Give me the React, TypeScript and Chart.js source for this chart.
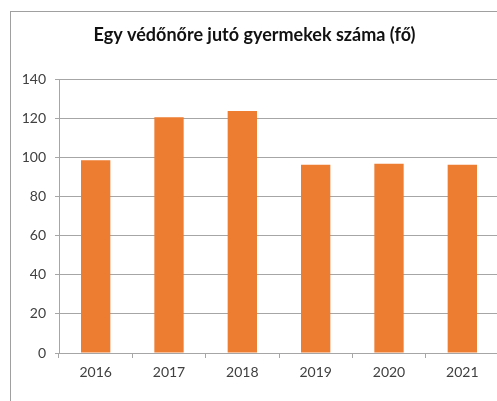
import React, { useEffect, useRef } from "react";
import { Chart, registerables } from "chart.js";

Chart.register(...registerables);

const categories = ["2016", "2017", "2018", "2019", "2020", "2021"];
const values = [98.5, 120.5, 123.6, 96.2, 96.7, 96.2];
const titleText = "Egy védőnőre jutó gyermekek száma (fő)";
const yMax = 140;
const yStep = 20;

const FONT = "Lato, 'Open Sans', sans-serif";

export default function App() {
  const ref = useRef<HTMLCanvasElement | null>(null);

  useEffect(() => {
    if (!ref.current) return;
    const titlePlugin = {
      id: "customTitle",
      afterDraw(chart: any) {
        const ctx = chart.ctx;
        ctx.save();
        ctx.font = `bold 18px ${FONT}`;
        ctx.fillStyle = "#111111";
        ctx.textAlign = "center";
        ctx.textBaseline = "middle";
        ctx.fillText(titleText, 254.5, 35);
        ctx.restore();
      },
    };
    const chart = new Chart(ref.current, {
      type: "bar",
      data: {
        labels: categories,
        datasets: [
          {
            data: values,
            backgroundColor: "#ED7D31",
            borderWidth: 0,
            barPercentage: 0.4,
            categoryPercentage: 1,
          },
        ],
      },
      options: {
        responsive: false,
        animation: false,
        layout: { padding: { left: 0, top: 79, right: 21, bottom: 0 } },
        plugins: {
          legend: { display: false },
          title: { display: false },
          tooltip: { enabled: false },
        },
        scales: {
          x: {
            offset: true,
            grid: {
              offset: true,
              drawOnChartArea: false,
              drawTicks: true,
              tickLength: 5,
              color: "#a6a6a6",
            },
            border: { display: true, color: "#a6a6a6" },
            ticks: {
              color: "#404040",
              font: { family: FONT, size: 14 },
              padding: 6,
            },
            afterFit(scale: any) {
              scale.height = 48;
            },
          },
          y: {
            min: 0,
            max: yMax,
            ticks: {
              stepSize: yStep,
              color: "#404040",
              font: { family: FONT, size: 14 },
              padding: 9,
            },
            grid: {
              color: "#a6a6a6",
              tickLength: 4,
              drawTicks: true,
            },
            border: { display: true, color: "#a6a6a6" },
            afterFit(scale: any) {
              scale.width = 59;
            },
          },
        },
      },
      plugins: [titlePlugin],
    });
    return () => chart.destroy();
  }, []);

  return (
    <div
      style={{
        position: "fixed",
        left: 0,
        top: 0,
        width: 497,
        height: 401,
        overflow: "hidden",
        background: "#ffffff",
      }}
    >
      <div
        style={{
          position: "absolute",
          left: 10,
          top: 11,
          width: 520,
          height: 420,
          borderTop: "1px solid #a0a0a0",
          borderLeft: "1px solid #a0a0a0",
        }}
      />
      <canvas
        ref={ref}
        width={520}
        height={401}
        style={{ position: "absolute", left: 0, top: 0, width: 520, height: 401 }}
      />
    </div>
  );
}
